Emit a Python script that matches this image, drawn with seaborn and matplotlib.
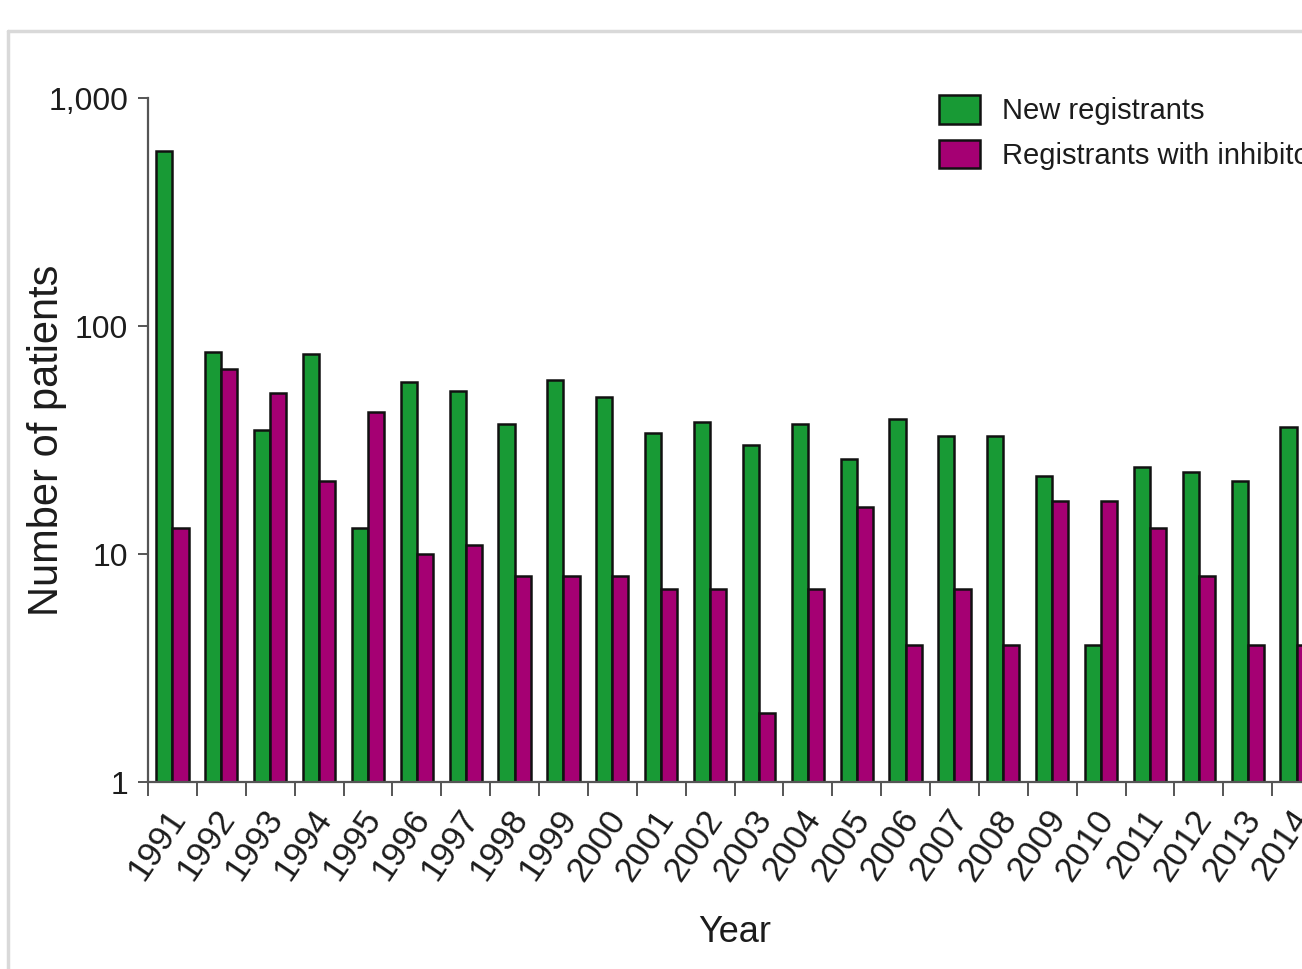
import matplotlib
matplotlib.use("Agg")
import matplotlib.pyplot as plt
from matplotlib.lines import Line2D
from matplotlib.ticker import FixedLocator, NullLocator
from matplotlib.transforms import ScaledTranslation
import numpy as np
import pandas as pd
import seaborn as sns

# Registry counts per year
years = [str(y) for y in range(1991, 2015)]
new_registrants = [586, 77, 35, 75, 13, 57, 52, 37, 58, 49, 34, 38, 30, 37,
                   26, 39, 33, 33, 22, 4, 24, 23, 21, 36]
with_inhibitors = [13, 65, 51, 21, 42, 10, 11, 8, 8, 8, 7, 7, 2, 7,
                   16, 4, 7, 4, 17, 17, 13, 8, 4, 4]
series_names = ["New registrants", "Registrants with inhibitors"]
y_ticks = [1, 10, 100, 1000]
y_tick_labels = ["1", "10", "100", "1,000"]

GREEN = "#189A35"
MAGENTA = "#A50073"
AXIS_GREY = "#555555"
TEXT = "#1c1c1c"
NARROW = ["Liberation Sans Narrow", "Liberation Sans", "DejaVu Sans"]
REGULAR = ["Liberation Sans", "DejaVu Sans"]

sns.set_theme(style="white")
plt.rcParams["font.family"] = REGULAR

df = pd.DataFrame({
    "Year": years * 2,
    "Patients": new_registrants + with_inhibitors,
    "Series": [series_names[0]] * len(years) + [series_names[1]] * len(years),
})

W, H = 1302, 969
fig = plt.figure(figsize=(W / 100, H / 100), dpi=100)
# axes extends past the right edge of the canvas
ax = fig.add_axes([148 / W, 1 - 782 / H, 1173 / W, 684 / H])

sns.barplot(data=df, x="Year", y="Patients", hue="Series",
            palette=[GREEN, MAGENTA], width=0.66,
            edgecolor="#111111", linewidth=1.8, saturation=1,
            legend=False, ax=ax)
ax.set_yscale("log", nonpositive="clip")

ax.set_xlim(-0.5, len(years) - 0.5)
ax.set_ylim(1, 1000)

# y axis
ax.yaxis.set_major_locator(FixedLocator(y_ticks))
ax.yaxis.set_minor_locator(NullLocator())
ax.set_yticklabels(y_tick_labels, family=NARROW, fontsize=23, color=TEXT)
ax.tick_params(axis="y", which="major", direction="out", length=7.2,
               width=1.4, color=AXIS_GREY, pad=7, left=True)

# x axis: ticks at group boundaries, labels at group centres
ax.xaxis.set_minor_locator(FixedLocator(np.arange(-0.5, len(years), 1.0)))
ax.tick_params(axis="x", which="minor", direction="out", length=10,
               width=1.4, color=AXIS_GREY, bottom=True)
ax.tick_params(axis="x", which="major", length=0, pad=23, bottom=True)
label_shift = ScaledTranslation(6 / 100, 1 / 100, fig.dpi_scale_trans)
for lbl in ax.get_xticklabels():
    lbl.set_rotation(56)
    lbl.set_ha("right")
    lbl.set_va("center")
    lbl.set_rotation_mode("anchor")
    lbl.set_fontsize(25)
    lbl.set_color(TEXT)
    lbl.set_transform(lbl.get_transform() + label_shift)

for side in ("top", "right"):
    ax.spines[side].set_visible(False)
for side in ("left", "bottom"):
    ax.spines[side].set_color(AXIS_GREY)
    ax.spines[side].set_linewidth(1.6)

ax.set_xlabel("Year", family=NARROW, fontsize=26, color=TEXT, va="center")
ax.xaxis.set_label_coords(0.5, (782 - 933) / 684)
ax.set_ylabel("Number of patients", fontsize=30, color=TEXT, va="center")
ax.yaxis.set_label_coords((47 - 148) / 1173, 0.5)

leg = ax.legend(handles=list(ax.containers), labels=series_names,
                loc="upper left",
                bbox_to_anchor=(939 / W, 1 - 95 / H),
                bbox_transform=fig.transFigure,
                frameon=False, fontsize=21, borderpad=0, borderaxespad=0,
                handlelength=1.4, handleheight=1.13, handletextpad=0.75,
                labelspacing=0.5)
for t in leg.get_texts():
    t.set_color(TEXT)

# light frame around the panel
fig.add_artist(Line2D([8 / W, 1.0], [1 - 31 / H, 1 - 31 / H],
                      transform=fig.transFigure, color="#d9d9d9", lw=2.5))
fig.add_artist(Line2D([8 / W, 8 / W], [0.0, 1 - 31 / H],
                      transform=fig.transFigure, color="#d9d9d9", lw=2.5))

fig.savefig("out.png", dpi=100)
